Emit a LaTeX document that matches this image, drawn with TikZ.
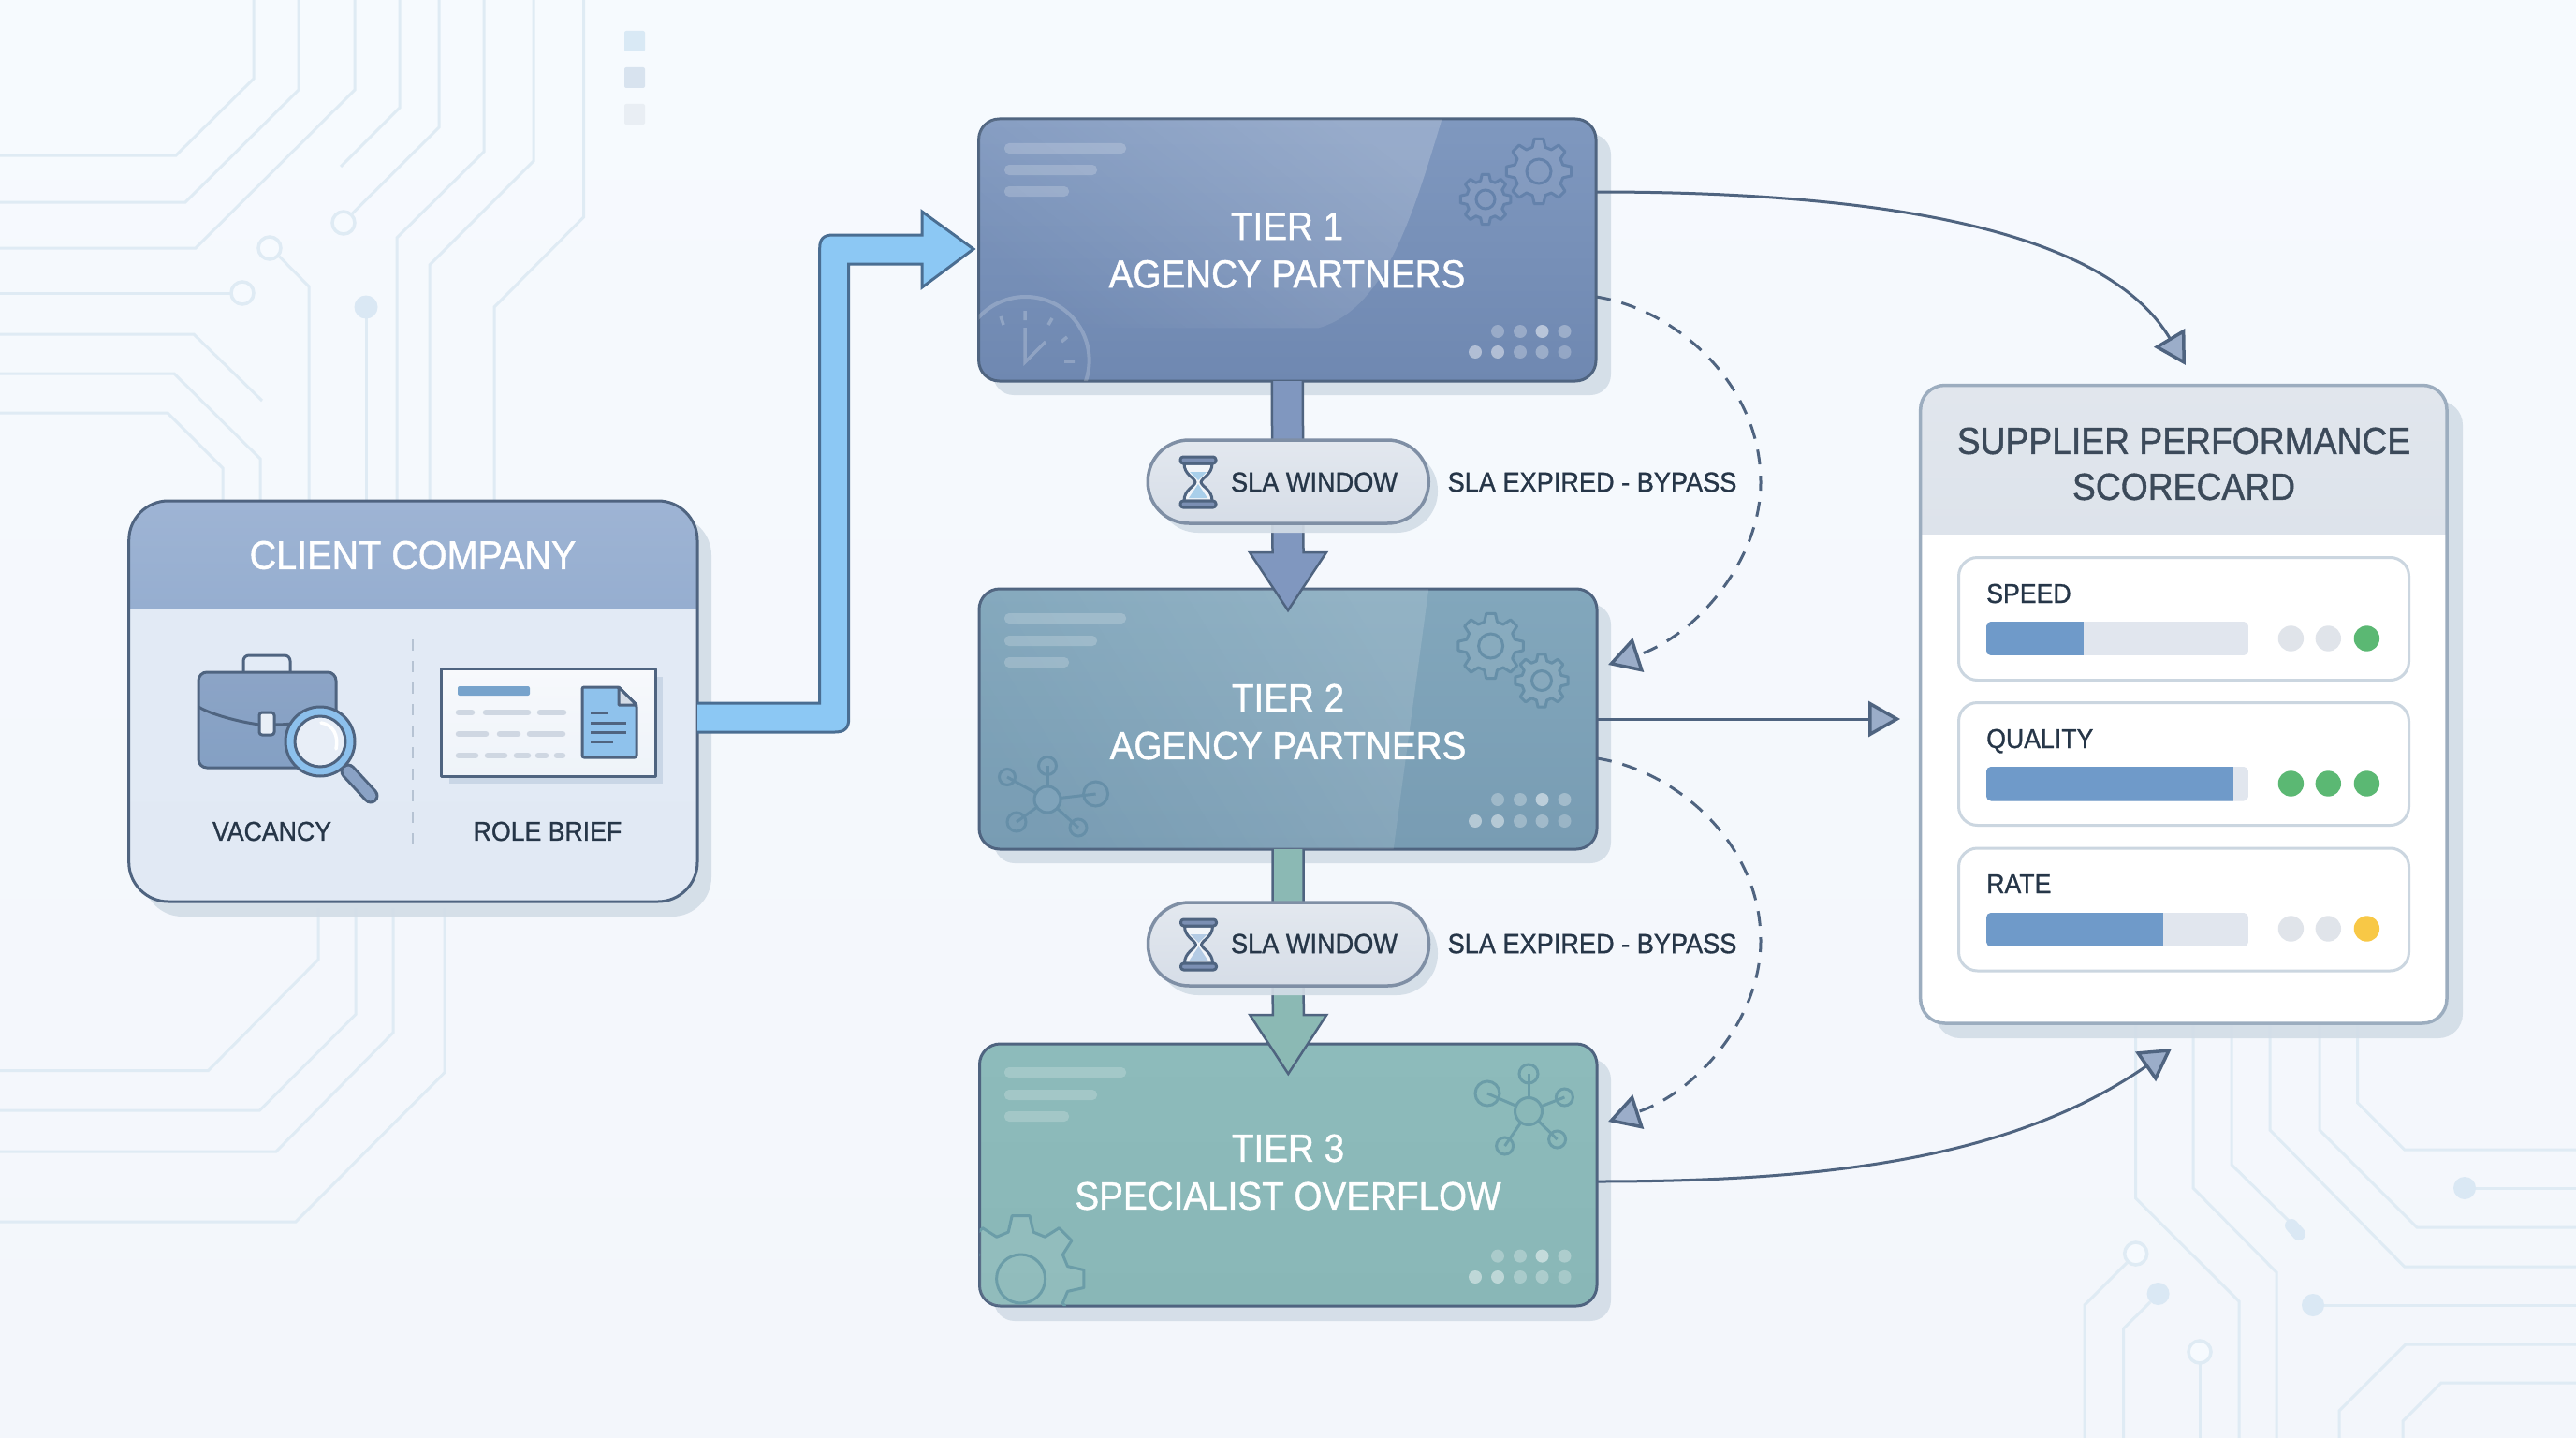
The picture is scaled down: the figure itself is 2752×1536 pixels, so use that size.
\documentclass[tikz,border=0pt]{standalone}
\usepackage{fontspec}
\setmainfont{Liberation Sans}[FakeStretch=0.92,FakeBold=1.0]
\usetikzlibrary{arrows.meta,calc,fadings}
\newcommand\hexc[1]{\definecolor{#1}{HTML}{#1}}
\hexc{D9E9F5}\hexc{D8E3EF}\hexc{E9EEF4}\hexc{E3EBF6}\hexc{E1E9F4}\hexc{9EB4D4}\hexc{96AED0}\hexc{B6C3D3}
\hexc{8CA4C6}\hexc{84A0C4}\hexc{E9EFF7}\hexc{8AA2C5}\hexc{8CC0EC}\hexc{E8EEF7}\hexc{C9D6E6}\hexc{F7F9FC}
\hexc{EEF3F9}\hexc{77A3CC}\hexc{CFD7E2}\hexc{8FC2EC}\hexc{D5DCE6}\hexc{7FA3BA}\hexc{8AB8B8}\hexc{8097BF}
\hexc{8BB9B4}\hexc{A9CFEA}\hexc{B4CBE4}\hexc{E1E6ED}\hexc{DDE3EB}\hexc{9CADBF}\hexc{E3E8EF}\hexc{D6DDE7}
\hexc{CBD6E0}\hexc{F2F5F9}\hexc{7B8FB3}\hexc{7F8FA5}
\definecolor{bgtop}{HTML}{F6FAFE}
\definecolor{bgbot}{HTML}{F3F6FB}
\definecolor{circ}{HTML}{DFEBF4}
\definecolor{circfill}{HTML}{DAE8F4}
\definecolor{shadowc}{HTML}{D3DDE7}
\definecolor{slate}{HTML}{4F6480}
\definecolor{ink}{HTML}{263648}
\definecolor{headfill}{HTML}{9BADC9}
\definecolor{skyblue}{HTML}{8CC8F4}
\definecolor{skyline}{HTML}{4A6E92}
\definecolor{trackc}{HTML}{E1E6EE}
\definecolor{barc}{HTML}{6F9AC9}
\definecolor{dotgrey}{HTML}{E0E4EA}
\definecolor{dotgreen}{HTML}{5BB873}
\definecolor{dotyellow}{HTML}{F8C846}
\definecolor{t1top}{HTML}{7F98BF}
\definecolor{t1bot}{HTML}{6F88B1}
\definecolor{t2top}{HTML}{82A7BC}
\definecolor{t2bot}{HTML}{789CB3}
\definecolor{t3top}{HTML}{8DBBBB}
\definecolor{t3bot}{HTML}{89B7B7}
\definecolor{g1}{HTML}{6482AB}
\definecolor{g2}{HTML}{668FA8}
\definecolor{g3}{HTML}{6B9DA8}
\tikzset{
  bgline/.style={draw=circ,line width=3pt,line join=miter},
  bgring/.style={draw=circ,line width=3.5pt,fill=bgtop},
  bgdot/.style={fill=circfill},
  tierbox/.style={draw=slate,line width=3pt,rectangle,rounded corners=22pt,inner sep=0pt,outer sep=0pt},
  shadowfill/.style={fill=shadowc,fill opacity=.92},
  tiertext/.style={text=white,align=center,inner sep=0pt,font=\fontsize{42}{51}\selectfont},
  smalltext/.style={text=ink,inner sep=0pt,font=\fontsize{29.5}{34}\selectfont},
  pillbox/.style={draw=7F8FA5,line width=3.5pt,rectangle,rounded corners=44pt,inner sep=0pt,outer sep=0pt,
     minimum width=300pt,minimum height=89pt,top color=E3E8EF,bottom color=D6DDE7},
  curvearrow/.style={draw=slate,line width=3pt,-{Triangle[length=34pt,width=38pt,fill=headfill,line width=3.5pt]}},
  bypass/.style={curvearrow,dash pattern=on 16pt off 12pt},
  metricbox/.style={draw=CBD6E0,line width=3pt,fill=white,rectangle,rounded corners=20pt,inner sep=0pt,outer sep=0pt,minimum width=481pt,minimum height=131pt},
  metriclabel/.style={anchor=base west,text=ink,inner sep=0pt,font=\fontsize{29}{34}\selectfont},
  iconline/.style={draw=slate,line width=3pt,line join=round},
}
\newcommand\gearicon[6]{%
  \begin{scope}[shift={(#1,#2)}]
    \draw[line width=3pt,draw=#6,fill=white,fill opacity=.07,line join=round]
      (#5-15:.76*#3) \foreach \a in {0,45,...,315}{ -- (#5+\a-15:.76*#3) -- (#5+\a-8:#3) -- (#5+\a+8:#3) -- (#5+\a+15:.76*#3)} -- cycle;
    \draw[line width=3pt,draw=#6] (0,0) circle[radius=#4];
  \end{scope}}
\newcommand\netspoke[6]{% cx,cy,sx,sy,sr,colour
  \draw[line width=3pt,draw=#6] (#1,#2) -- (#3,#4);
  \draw[line width=3pt,draw=#6] (#3,#4) circle[radius=#5];}
\newcommand\dotsgrid[2]{%
  \foreach \x/\o in {1600/.28,1624/.28,1647.5/.5,1671.5/.3}{\fill[white,opacity=\o] (\x,#1) circle[radius=7];}
  \foreach \x/\o in {1576/.45,1600/.45,1624/.28,1647.5/.3,1671.5/.25}{\fill[white,opacity=\o] (\x,#2) circle[radius=7];}}
\newcommand\tierbars[3]{%
  \fill[white,opacity=.2,rounded corners=5pt] (1073,#1) rectangle (1203,#1+11);
  \fill[white,opacity=.2,rounded corners=5pt] (1073,#2) rectangle (1172,#2+11);
  \fill[white,opacity=.2,rounded corners=5pt] (1073,#3) rectangle (1142,#3+11);}
\newcommand\hourglassicon[3]{%
  \begin{scope}[shift={(#1,#2)}]
    \draw[iconline,fill=F2F5F9] (-15,-20) .. controls (-15,-8) and (-4,-5) .. (-3,0) .. controls (-4,5) and (-15,8) .. (-15,20)
       -- (15,20) .. controls (15,8) and (4,5) .. (3,0) .. controls (4,-5) and (15,-8) .. (15,-20) -- cycle;
    \fill[#3] (-9,-11) -- (9,-11) -- (0,-2) -- cycle;
    \fill[#3] (0,2) -- (10,17) -- (-10,17) -- cycle;
    \draw[iconline,fill=7B8FB3,rounded corners=3pt] (-19,-27) rectangle (19,-20);
    \draw[iconline,fill=7B8FB3,rounded corners=3pt] (-19,20) rectangle (19,27);
  \end{scope}}
\newcommand\tierarrow[6]{% from,to,tip offset,base offset,fill,border
  \draw[draw=#6,fill=#5,line width=2.5pt,line join=miter]
    ($(#1.south)+(-16.5,0)$) -- ($(#2.north)+(-16.5,#4)$) -- ($(#2.north)+(-41,#4)$) -- ($(#2.north)+(0,#3)$)
    -- ($(#2.north)+(41,#4)$) -- ($(#2.north)+(16.5,#4)$) -- ($(#1.south)+(16.5,0)$);}
\newcommand\metricbar[3]{%
  \begin{scope}
    \clip[rounded corners=5pt] (2122,#1) rectangle (2402,#2);
    \fill[trackc] (2122,#1) rectangle (2402,#2);
    \fill[barc] (2122,#1) rectangle (#3,#2);
  \end{scope}}
\begin{document}
\begin{tikzpicture}[x=1pt,y=-1pt]
\useasboundingbox (0,0) rectangle (2752,1536);
\shade[top color=bgtop,bottom color=bgbot] (0,0) rectangle (2752,1536);
% circuit traces, top left
\draw[bgline] (271,0) -- (271,84) -- (188,166) -- (0,166);
\draw[bgline] (319,0) -- (319,96) -- (198,216) -- (0,216);
\draw[bgline] (379,0) -- (379,96) -- (209,265) -- (0,265);
\draw[bgline] (427,0) -- (427,115) -- (364,178);
\draw[bgline] (469,0) -- (469,136) -- (376.5,228);
\draw[bgline] (517,0) -- (517,162) -- (424,254) -- (424,535);
\draw[bgline] (570,0) -- (570,172) -- (459,283) -- (459,535);
\draw[bgline] (623.5,0) -- (623.5,232) -- (528,328) -- (528,535);
\draw[bgline] (298.5,274) -- (330,306) -- (330,535);
\draw[bgline] (0,313) -- (248,313);
\draw[bgline] (391,340) -- (391,535);
\draw[bgline] (0,357) -- (207,357) -- (280,428);
\draw[bgline] (0,399) -- (186,399) -- (278,490) -- (278,535);
\draw[bgline] (0,441) -- (179,441) -- (238,500) -- (238,535);
\draw[bgring] (367,238) circle[radius=12];
\draw[bgring] (288,265) circle[radius=12];
\draw[bgring] (259,313) circle[radius=12];
\fill[bgdot] (391,328) circle[radius=12.5];
\fill[fill=D9E9F5,rounded corners=2pt] (667,33) rectangle (689,55);
\fill[fill=D8E3EF,rounded corners=2pt] (667,72) rectangle (689,94);
\fill[fill=E9EEF4,rounded corners=2pt] (667,111) rectangle (689,133);
% circuit traces, bottom left
\draw[bgline] (340,970) -- (340,1025) -- (222.5,1143.5) -- (0,1143.5);
\draw[bgline] (380,970) -- (380,1083.5) -- (277.5,1186) -- (0,1186);
\draw[bgline] (420,970) -- (420,1103) -- (295,1230) -- (0,1230);
\draw[bgline] (475,970) -- (475,1145.6) -- (316,1305) -- (0,1305);
% circuit traces, bottom right
\draw[bgline] (2281.7,1090) -- (2281.7,1280) -- (2392,1390) -- (2392,1536);
\draw[bgline] (2343,1090) -- (2343,1269) -- (2432,1359) -- (2432,1536);
\draw[bgline] (2384,1090) -- (2384,1244) -- (2445,1304);
\draw[bgline] (2425,1090) -- (2425,1207) -- (2568.7,1353) -- (2752,1353);
\draw[bgline] (2478,1090) -- (2478,1207) -- (2582,1311) -- (2752,1311);
\draw[bgline] (2518.7,1090) -- (2518.7,1178) -- (2568.7,1228) -- (2752,1228);
\draw[bgline] (2633,1269) -- (2752,1269);
\draw[bgline] (2471,1394) -- (2752,1394);
\draw[bgline] (2752,1436) -- (2570,1436) -- (2499,1507) -- (2499,1536);
\draw[bgline] (2752,1477) -- (2608,1477) -- (2567,1518) -- (2567,1536);
\draw[bgline] (2272,1349) -- (2227,1394) -- (2227,1536);
\draw[bgline] (2297,1391) -- (2268.7,1419) -- (2268.7,1536);
\draw[bgline] (2350,1456) -- (2350,1536);
\fill[bgdot] (2633,1269) circle[radius=12];
\fill[bgdot] (2471,1394) circle[radius=12];
\fill[bgdot] (2305.6,1382) circle[radius=12];
\draw[line width=14pt,draw=circfill,line cap=round] (2448,1309) -- (2456,1318);
\draw[bgring] (2281.7,1339) circle[radius=12];
\draw[bgring] (2350,1444) circle[radius=12];

% ---------- client company
\fill[shadowfill,rounded corners=42pt] (153,551) rectangle (760,979);
\shade[top color=E3EBF6,bottom color=E1E9F4,rounded corners=42pt] (137.7,535) rectangle (745,963);
\begin{scope}
  \clip[rounded corners=42pt] (137.7,535) rectangle (745,963);
  \shade[top color=9EB4D4,bottom color=96AED0] (137.7,535) rectangle (745,649);
\end{scope}
\node[draw=slate,line width=3pt,rectangle,rounded corners=42pt,inner sep=0pt,outer sep=0pt,minimum width=607.3pt,minimum height=428pt] (client) at (441.35,749) {};
\node[text=white,inner sep=0pt,font=\fontsize{43}{50}\selectfont] (clienttitle) at (441,593) {CLIENT COMPANY};
\draw[draw=B6C3D3,line width=2.5pt,dash pattern=on 12pt off 11pt] (441,683) -- (441,905);
% briefcase
\draw[iconline,fill=E3EBF6,rounded corners=6pt] (260,718) -- (260,700) -- (310,700) -- (310,718);
\shade[top color=8CA4C6,bottom color=84A0C4,rounded corners=9pt] (212,718) rectangle (359,820);
\draw[iconline,rounded corners=9pt] (212,718) rectangle (359,820);
\draw[iconline] (212,755) .. controls (225,763) and (255,771) .. (277,774);
\draw[iconline] (293,774) .. controls (315,774) and (340,770) .. (359,760);
\draw[iconline,fill=E9EFF7,rounded corners=3pt] (277,761) rectangle (293,785);
% magnifier
\draw[draw=slate,line width=17pt,line cap=round] (372,824) -- (396,850);
\draw[draw=8AA2C5,line width=11pt,line cap=round] (372,824) -- (396,850);
\draw[iconline,fill=8CC0EC] (342,792) circle[radius=37];
\draw[iconline,fill=E8EEF7] (342,792) circle[radius=27];
\draw[draw=white,line width=3.5pt,line cap=round] (343,772) .. controls (356,774) and (362,786) .. (359,800);
\node[smalltext,font=\fontsize{29}{34}\selectfont] (vacancy) at (290.5,888) {VACANCY};
% role brief
\fill[fill=C9D6E6] (480,723) rectangle (708,837);
\draw[iconline,top color=F7F9FC,bottom color=EEF3F9] (471.4,714) rectangle (700,829);
\fill[fill=77A3CC,rounded corners=2pt] (489,733) rectangle (566,743);
\foreach \y/\a/\b in {761/488/506,761/517/566,761/575/604,784/488/521,784/532/555,784/564/603,807/488/510,807/519/541,807/550/566,807/573/585,807/593/603}
  \draw[draw=CFD7E2,line width=6.5pt,line cap=round] (\a+2,\y) -- (\b-2,\y);
\draw[iconline,fill=8FC2EC,rounded corners=2pt] (622,734) -- (661,734) -- (680,753) -- (680,809) -- (622,809) -- cycle;
\draw[iconline,fill=D5DCE6] (661,734) -- (680,753) -- (661,753) -- cycle;
\draw[draw=slate,line width=3pt] (631,761) -- (650,761) (631,772) -- (669,772) (631,782) -- (669,782) (631,792) -- (655,792);
\node[smalltext,font=\fontsize{29}{34}\selectfont] (rolebrief) at (585,888) {ROLE BRIEF};

% ---------- tier 1
\fill[shadowfill,rounded corners=22pt] (1061,143) rectangle (1721,422);
\node[tierbox,minimum width=659.4pt,minimum height=280pt,top color=t1top,bottom color=t1bot] (tier1) at (1375.3,267) {};
\begin{scope}
  \clip[rounded corners=22pt] (1045.6,127) rectangle (1705,407);
  \fill[white,opacity=.2,path fading=west,fading angle=30] (1046,127) -- (1541,127) .. controls (1510,230) and (1480,330) .. (1409,350) -- (1046,350) -- cycle;
  \tierbars{153}{176}{199}
  \draw[draw=white,draw opacity=.2,line width=4pt] (1095.6,385) circle[radius=68];
  \draw[draw=white,draw opacity=.22,line width=3.5pt] (1095,350) -- (1095,387) -- (1117,365);
  \draw[draw=white,draw opacity=.22,line width=3.5pt] (1095,332) -- (1095,342) (1069,338) -- (1072,347) (1124,340) -- (1120,347) (1134,365) -- (1140,360) (1137,386) -- (1148,386);
\end{scope}
\gearicon{1644}{183}{35}{13}{0}{g1}
\gearicon{1587}{213}{27}{10}{0}{g1}
\dotsgrid{354}{376}
\node[tiertext] (tier1label) at (1375,267.5) {TIER 1\\AGENCY PARTNERS};

% ---------- tier 2
\fill[shadowfill,rounded corners=22pt] (1062,645) rectangle (1721,922);
\node[tierbox,minimum width=660pt,minimum height=278pt,top color=t2top,bottom color=t2bot] (tier2) at (1376,768) {};
\begin{scope}
  \clip[rounded corners=22pt] (1046,629) rectangle (1706,907);
  \fill[white,opacity=.14,path fading=west,fading angle=20] (1046,629) -- (1526.6,629) -- (1489,907) -- (1046,907) -- cycle;
  \tierbars{655}{679}{702}
\end{scope}
\gearicon{1592.6}{690}{35}{13}{0}{g2}
\gearicon{1647}{727}{28.5}{10.5}{0}{g2}
\netspoke{1119}{854}{1119}{818}{9.5}{g2}
\netspoke{1119}{854}{1076}{830}{8.5}{g2}
\netspoke{1119}{854}{1170.6}{848}{13}{g2}
\netspoke{1119}{854}{1086}{878}{10}{g2}
\netspoke{1119}{854}{1152}{884}{9}{g2}
\draw[line width=3pt,draw=g2,fill=7FA3BA] (1119,854) circle[radius=14];
\dotsgrid{854}{877}
\node[tiertext] (tier2label) at (1376,771) {TIER 2\\AGENCY PARTNERS};

% ---------- tier 3
\fill[shadowfill,rounded corners=22pt] (1062,1131) rectangle (1721,1411);
\node[tierbox,minimum width=659.5pt,minimum height=280pt,top color=t3top,bottom color=t3bot] (tier3) at (1376.25,1255) {};
\begin{scope}
  \clip[rounded corners=22pt] (1046.5,1115) rectangle (1706,1395);
  \tierbars{1140}{1164}{1187}
  \gearicon{1090.6}{1366}{68}{26}{-90}{g3}
\end{scope}
\netspoke{1633}{1187}{1633}{1147}{10}{g3}
\netspoke{1633}{1187}{1589}{1168}{13}{g3}
\netspoke{1633}{1187}{1671.4}{1172}{9}{g3}
\netspoke{1633}{1187}{1607.6}{1224}{9}{g3}
\netspoke{1633}{1187}{1663.6}{1217}{9}{g3}
\draw[line width=3pt,draw=g3,fill=8AB8B8] (1633,1187) circle[radius=14.5];
\dotsgrid{1341.6}{1364}
\node[tiertext] (tier3label) at (1376,1252) {TIER 3\\SPECIALIST OVERFLOW};

% ---------- thick connectors and SLA pills
\tierarrow{tier1}{tier2}{23}{-39}{8097BF}{slate}
\tierarrow{tier2}{tier3}{32}{-31}{8BB9B4}{slate}
\fill[shadowfill,rounded corners=44pt] (1236,480) rectangle (1536,569);
\node[pillbox] (pill1) at (1376.25,514.5) {};
\hourglassicon{1280}{515}{A9CFEA}
\node[smalltext] (pill1label) at (1404,515) {SLA WINDOW};
\node[smalltext] (bypass1label) at (1701,515) {SLA EXPIRED - BYPASS};
\fill[shadowfill,rounded corners=44pt] (1236,974) rectangle (1536,1063);
\node[pillbox] (pill2) at (1376.5,1008.5) {};
\hourglassicon{1280.5}{1009}{B4CBE4}
\node[smalltext] (pill2label) at (1404,1008) {SLA WINDOW};
\node[smalltext] (bypass2label) at (1701,1008) {SLA EXPIRED - BYPASS};

% ---------- scorecard
\fill[shadowfill,rounded corners=26pt] (2068,428) rectangle (2631,1109);
\fill[white,rounded corners=26pt] (2051.7,411.5) rectangle (2614,1093);
\begin{scope}
  \clip[rounded corners=26pt] (2051.7,411.5) rectangle (2614,1093);
  \shade[top color=E1E6ED,bottom color=DDE3EB] (2051.7,411.5) rectangle (2614,570);
\end{scope}
\node[draw=9CADBF,line width=3.5pt,rectangle,rounded corners=26pt,inner sep=0pt,outer sep=0pt,minimum width=562.3pt,minimum height=681.5pt] (scorecard) at (2332.85,752.25) {};
\node[text=ink!90!white,align=center,inner sep=0pt,font=\fontsize{40.5}{49}\selectfont] (sctitle) at (2333,495.5) {SUPPLIER PERFORMANCE\\SCORECARD};
\node[metricbox] (speedbox) at (2333,661) {};
\node[metricbox] (qualitybox) at (2333,816) {};
\node[metricbox] (ratebox) at (2333,971.5) {};
\node[metriclabel] (speedlabel) at (2122,644) {SPEED};
\node[metriclabel] (qualitylabel) at (2122,799) {QUALITY};
\node[metriclabel] (ratelabel) at (2122,954) {RATE};
\metricbar{664}{700}{2226.4}
\metricbar{819}{855.5}{2386}
\metricbar{975}{1011}{2311.4}
\foreach \y/\a/\b/\c in {682/dotgrey/dotgrey/dotgreen,837/dotgreen/dotgreen/dotgreen,992/dotgrey/dotgrey/dotyellow}{
  \fill[\a] (2447.4,\y) circle[radius=13.7];
  \fill[\b] (2487.3,\y) circle[radius=13.7];
  \fill[\c] (2528.4,\y) circle[radius=13.7];
}

% ---------- blue inflow arrow
\coordinate (blueA) at (client.east |- 0,751);
\coordinate (blueB) at (client.east |- 0,782);
\coordinate (blueTip) at ($(tier1.west)+(-5.6,-1)$);
\fill[skyblue] (blueA) -- (875.7,751) -- (875.7,265) .. controls (875.7,255) and (880,251) .. (890,251) -- (985,251) -- (985,226) -- (blueTip) -- (985,307) -- (985,282) -- (906.7,282) -- (906.7,768) .. controls (906.7,778) and (902,782) .. (892,782) -- (blueB) -- cycle;
\draw[draw=skyline,line width=3pt,line join=miter] (blueA) -- (875.7,751) -- (875.7,265) .. controls (875.7,255) and (880,251) .. (890,251) -- (985,251) -- (985,226) -- (blueTip) -- (985,307) -- (985,282) -- (906.7,282) -- (906.7,768) .. controls (906.7,778) and (902,782) .. (892,782) -- (blueB);

% ---------- thin connectors
\coordinate (out1) at (tier1.east |- 0,205);
\coordinate (in1) at (2335,390);
\draw[curvearrow] (out1) .. controls (1950,205) and (2240,230) .. (in1);
\coordinate (out2) at (tier2.east |- 0,768);
\coordinate (in2) at (2030,768);
\draw[curvearrow] (out2) -- (in2);
\coordinate (out3) at (tier3.east |- 0,1262);
\coordinate (in3) at (2320,1120);
\draw[curvearrow] (out3) .. controls (1950,1262) and (2150,1238) .. (in3);
\coordinate (by1a) at (tier1.east |- 0,317);
\coordinate (by1m) at (1881,515);
\coordinate (by1b) at (1718,710);
\draw[bypass] (by1a) .. controls (1790,330) and (1881,410) .. (by1m) .. controls (1881,600) and (1810,680) .. (by1b);
\coordinate (by2a) at (tier2.east |- 0,810);
\coordinate (by2m) at (1881,1005);
\coordinate (by2b) at (1718,1198);
\draw[bypass] (by2a) .. controls (1790,823) and (1881,900) .. (by2m) .. controls (1881,1090) and (1810,1168) .. (by2b);
\end{tikzpicture}
\end{document}
